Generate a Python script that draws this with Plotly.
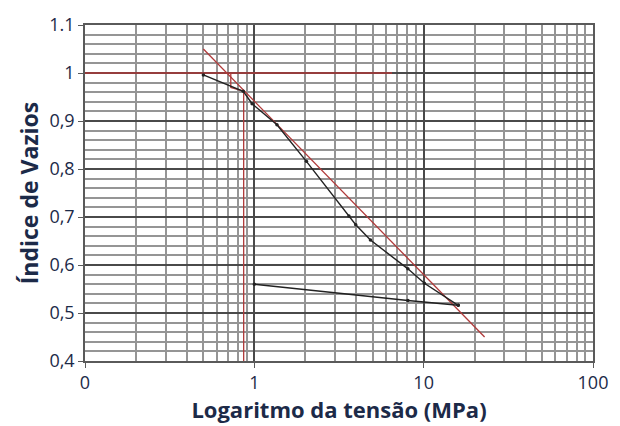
import plotly.graph_objects as go

# Data: void ratio vs stress (MPa)
load_x = [0.5, 0.86, 0.97, 1.36, 2.03, 3.62, 3.97, 4.85, 8.07, 10.1, 16.0]
load_y = [0.996, 0.962, 0.936, 0.892, 0.816, 0.702, 0.684, 0.652, 0.592, 0.562, 0.516]
unload_x = [16.0, 8.07, 1.0]
unload_y = [0.516, 0.526, 0.56]

# Construction lines (red)
virgin_x = [0.5, 22.9]
virgin_y = [1.05, 0.45]
horiz_x = [0.1, 6.5]
horiz_y = [1.0, 1.0]
vert_x = [0.865, 0.865]
vert_y = [0.4, 0.964]
bis_x = [0.726, 0.726, 0.865]
bis_y = [1.0, 0.97, 0.962]

x_tickvals = [0.1, 1, 10, 100]
x_ticktext = ["0", "1", "10", "100"]
y_tickvals = [0.4, 0.5, 0.6, 0.7, 0.8, 0.9, 1.0, 1.1]
y_ticktext = ["0,4", "0,5", "0,6", "0,7", "0,8", "0,9", "1", "1.1"]
x_minor = [m * d for d in (0.1, 1, 10) for m in range(2, 10)]

red = "#b03a3a"
fig = go.Figure()
for xs, ys in [(horiz_x, horiz_y), (virgin_x, virgin_y), (vert_x, vert_y), (bis_x, bis_y)]:
    fig.add_trace(go.Scatter(x=xs, y=ys, mode="lines",
                             line=dict(color=red, width=1.3), hoverinfo="skip"))
fig.add_trace(go.Scatter(x=load_x, y=load_y, mode="lines+markers",
                         line=dict(color="#222222", width=1.4),
                         marker=dict(size=3.5, color="#222222")))
fig.add_trace(go.Scatter(x=unload_x, y=unload_y, mode="lines+markers",
                         line=dict(color="#222222", width=1.4),
                         marker=dict(size=3.5, color="#222222")))

navy = "#1c2a48"
fig.update_layout(
    width=620, height=426,
    margin=dict(l=85, r=20, t=18, b=58),
    paper_bgcolor="white", plot_bgcolor="white",
    showlegend=False,
    font=dict(family="Open Sans", color=navy),
    xaxis=dict(
        type="log", range=[-1, 2],
        tickvals=x_tickvals, ticktext=x_ticktext,
        tickfont=dict(size=18, color=navy),
        showgrid=True, gridcolor="#4a4a4a", gridwidth=1.5,
        ticks="outside", ticklen=5, tickcolor="#5a5a5a",
        minor=dict(tickvals=x_minor, showgrid=True, gridcolor="#959595", gridwidth=2),
        showline=True, linecolor="#5a5a5a", linewidth=1.5, mirror=True,
        zeroline=False,
        title=dict(text="<b>Logaritmo da tensão (MPa)</b>", font=dict(size=22, color=navy), standoff=4),
    ),
    yaxis=dict(
        range=[0.4, 1.1],
        tickvals=y_tickvals, ticktext=y_ticktext,
        tickfont=dict(size=18, color=navy),
        showgrid=True, gridcolor="#4a4a4a", gridwidth=1.5,
        ticks="outside", ticklen=5, tickcolor="#5a5a5a",
        minor=dict(dtick=0.02, showgrid=True, gridcolor="#959595", gridwidth=2),
        showline=True, linecolor="#5a5a5a", linewidth=1.5, mirror=True,
        zeroline=False,
        title=dict(text="<b>Índice de Vazios</b>", font=dict(size=23, color=navy), standoff=4),
    ),
)
fig.write_html("out.html")
